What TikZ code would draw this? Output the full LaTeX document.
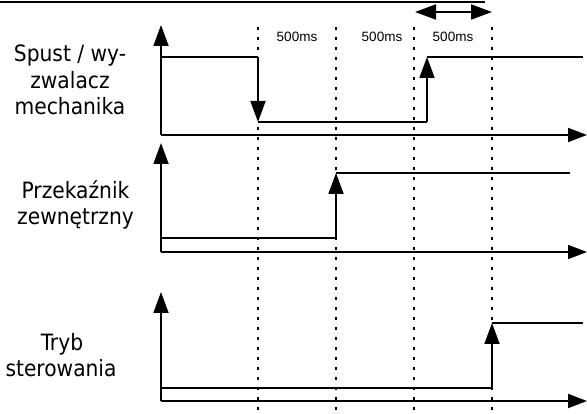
\documentclass[tikz,border=0pt]{standalone}
\usepackage{fontspec}
\setmainfont{DejaVu Sans}
\newfontfamily\labelfont{DejaVu Sans Condensed}
\newfontfamily\msfont{Liberation Sans}
\usetikzlibrary{arrows.meta}
\begin{document}
\begin{tikzpicture}[x=1pt,y=-1pt,
  wire/.style={line width=1.8pt},
  tip/.style={-{Triangle[length=21pt,width=15pt]}},
  axistip/.style={-{Triangle[length=19pt,width=14pt]}},
  grid/.style={line width=1.8pt,dash pattern=on 3pt off 7pt},
  sig/.style={font=\labelfont\fontsize{22.5}{26}\selectfont,anchor=base,inner sep=0pt},
  ms/.style={font=\msfont\fontsize{13.5}{15}\selectfont,inner sep=0pt}]
\useasboundingbox (0,0) rectangle (587,414);
\fill[white] (0,0) rectangle (587,414);
% cropped top rule
\draw[wire] (0,2) -- (485,2);
% dotted time markers
\foreach \x/\n in {258/a,336/b,414/c,492/d}{
  \coordinate (t\n top) at (\x,27);
  \coordinate (t\n bot) at (\x,414);
  \draw[grid] (t\n top) -- (t\n bot);
}
% 500 ms labels and interval arrow
\node[ms] (ms1) at (297,37) {500ms};
\node[ms] (ms2) at (382,37) {500ms};
\node[ms] (ms3) at (453,37) {500ms};
\coordinate (dl) at (415,12);
\coordinate (dr) at (492,12);
\draw[wire,{Triangle[length=21pt,width=15pt]}-{Triangle[length=21pt,width=15pt]}] (dl) -- (dr);
% ---------- panel 1 ----------
\node[sig] (l1a) at (70,62) {Spust / wy-};
\node[sig] (l1b) at (70,89) {zwalacz};
\node[sig] (l1c) at (70,115) {mechanika};
\coordinate (o1) at (161,135);
\coordinate (y1) at (161,25);
\coordinate (x1) at (587,135);
\draw[wire,tip] (o1) -- (y1);
\draw[wire,axistip] (o1) -- (x1);
\coordinate (s1a) at (161,57);
\coordinate (s1b) at (258,57);
\coordinate (s1c) at (258,122);
\coordinate (s1d) at (427,122);
\coordinate (s1e) at (427,57);
\coordinate (s1f) at (583,57);
\draw[wire] (s1a) -- (s1b);
\draw[wire,tip] (s1b) -- (s1c);
\draw[wire] (s1c) -- (s1d);
\draw[wire,tip] (s1d) -- (s1e);
\draw[wire] (s1e) -- (s1f);
% ---------- panel 2 ----------
\node[sig] (l2a) at (75.5,199) {Przekaźnik};
\node[sig] (l2b) at (75.5,225) {zewnętrzny};
\coordinate (o2) at (161,252);
\coordinate (y2) at (161,143);
\coordinate (x2) at (587,252);
\draw[wire,tip] (o2) -- (y2);
\draw[wire,axistip] (o2) -- (x2);
\coordinate (s2a) at (161,238);
\coordinate (s2b) at (336,238);
\coordinate (s2c) at (336,173);
\coordinate (s2d) at (570,173);
\draw[wire] (s2a) -- (s2b);
\draw[wire,tip] (s2b) -- (s2c);
\draw[wire] (s2c) -- (s2d);
% ---------- panel 3 ----------
\node[sig] (l3a) at (62,351) {Tryb};
\node[sig] (l3b) at (61,377) {sterowania};
\coordinate (o3) at (161,401);
\coordinate (y3) at (161,292);
\coordinate (x3) at (587,401);
\draw[wire,tip] (o3) -- (y3);
\draw[wire,axistip] (o3) -- (x3);
\coordinate (s3a) at (161,388);
\coordinate (s3b) at (492,388);
\coordinate (s3c) at (492,323);
\coordinate (s3d) at (583,323);
\draw[wire] (s3a) -- (s3b);
\draw[wire,tip] (s3b) -- (s3c);
\draw[wire] (s3c) -- (s3d);
\end{tikzpicture}
\end{document}
